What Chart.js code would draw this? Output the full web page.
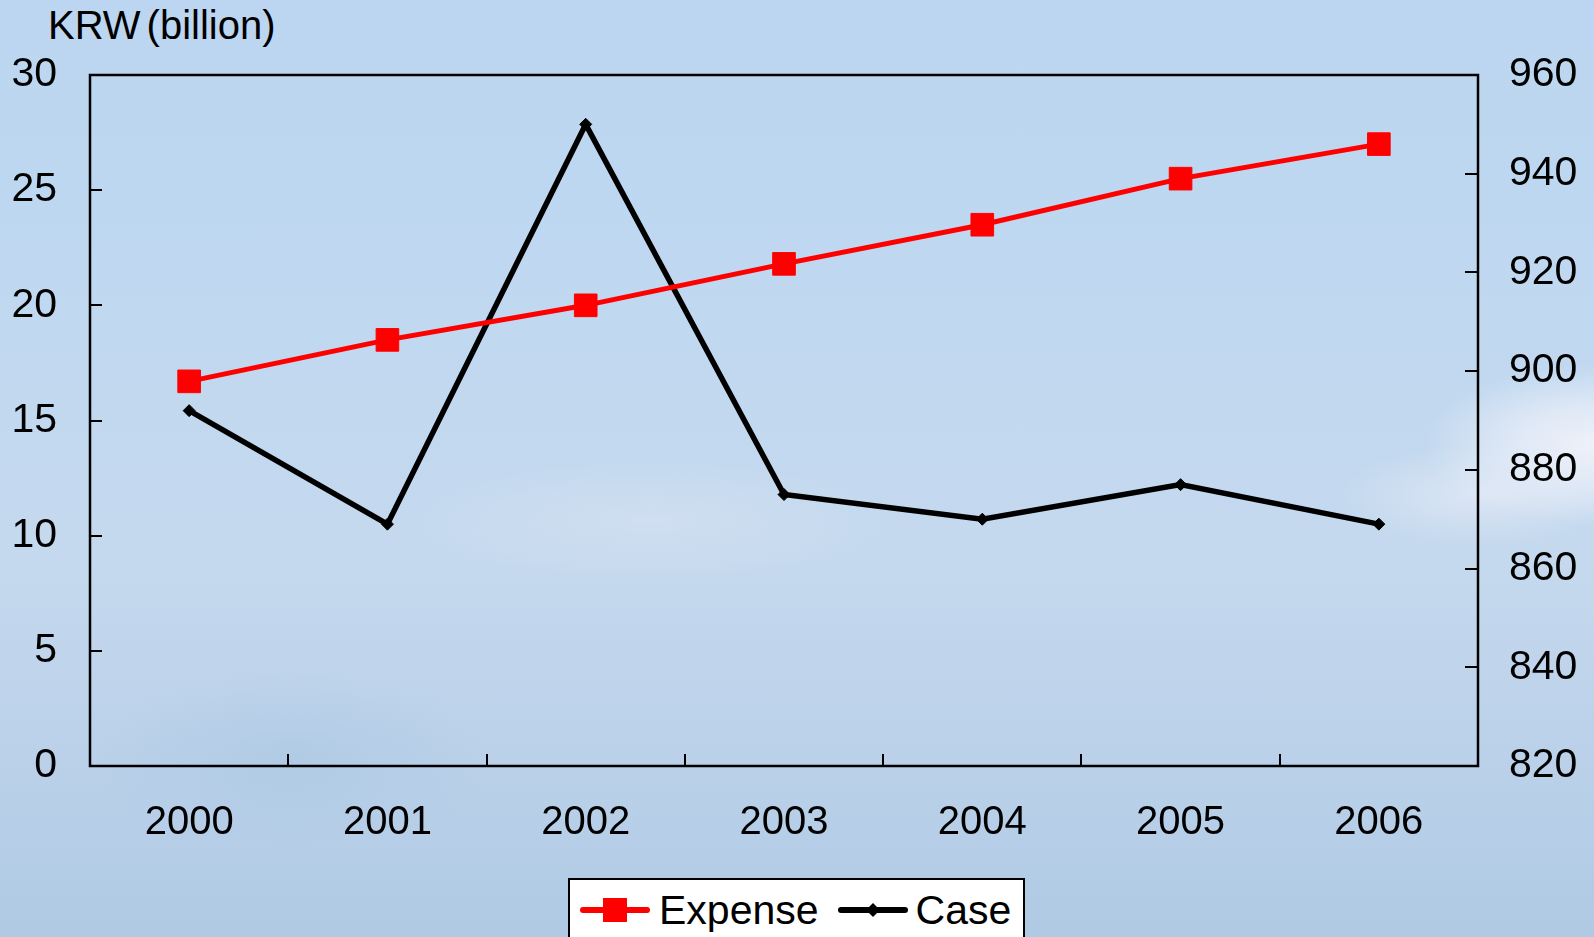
<!DOCTYPE html>
<html>
<head>
<meta charset="utf-8">
<title>Expense and Case</title>
<script src="https://cdn.jsdelivr.net/npm/chart.js@4.4.1/dist/chart.umd.min.js"></script>
<style>
  html, body { margin: 0; padding: 0; }
  body {
    width: 1594px; height: 937px; overflow: hidden; position: relative;
    font-family: "Liberation Sans", Arial, sans-serif;
    background:
      radial-gradient(ellipse 170px 80px at 1594px 445px, rgba(238,241,249,1), rgba(236,240,249,.7) 45%, rgba(232,237,247,0) 100%),
      radial-gradient(ellipse 140px 50px at 1480px 495px, rgba(228,234,246,.75), rgba(226,233,245,0) 100%),
      radial-gradient(ellipse 240px 60px at 650px 520px, rgba(222,230,243,.45), rgba(222,230,243,0) 100%),
      radial-gradient(ellipse 200px 90px at 290px 760px, rgba(170,198,226,.55), rgba(170,198,226,0) 100%),
      linear-gradient(180deg, #bcd6f1 0%, #c0d8f0 35%, #c5d9ee 60%, #bcd2ea 78%, #b0cae4 100%);
  }
  #chart { position: absolute; left: 0; top: 0; }
  #unit {
    position: absolute; left: 48px; top: 5px;
    font-size: 40px; line-height: 1; color: #000;
  }
  #unit span { margin-left: 6px; }
  #legend {
    position: absolute; left: 568px; top: 878px; width: 453px; height: 80px;
    background: #fff; border: 2px solid #000;
    display: flex; align-items: flex-start;
  }
  .item { display: flex; align-items: center; height: 60px; font-size: 41px; color: #000; }
  .item svg { display: block; }
</style>
</head>
<body>
<div id="unit">KRW<span>(billion)</span></div>
<canvas id="chart" width="1594" height="937"></canvas>
<div id="legend"></div>

<script>
/* Data */
const years = ['2000', '2001', '2002', '2003', '2004', '2005', '2006'];
const expense = [16.7, 18.5, 20.0, 21.8, 23.5, 25.5, 27.0];   // KRW billion
const cases = [892, 869, 950, 875, 870, 877, 869];            // count

const leftRange = { min: 0, max: 30, step: 5 };
const rightRange = { min: 820, max: 960, step: 20 };

const FONT = '"Liberation Sans", Arial, sans-serif';

/* Frame + inward tick marks */
const framePlugin = {
  id: 'frame',
  beforeDatasetsDraw(chart) {
    const { ctx, chartArea: a, scales } = chart;
    ctx.save();
    ctx.strokeStyle = '#000';
    ctx.lineWidth = 2;
    ctx.beginPath();
    // x ticks at category boundaries
    const x = scales.x;
    for (let i = 1; i < years.length; i++) {
      const px = Math.round((x.getPixelForTick(i - 1) + x.getPixelForTick(i)) / 2);
      ctx.moveTo(px, a.bottom); ctx.lineTo(px, a.bottom - 12);
    }
    // left axis
    scales.y.ticks.forEach(t => {
      const py = Math.round(scales.y.getPixelForValue(t.value));
      ctx.moveTo(a.left, py); ctx.lineTo(a.left + 12, py);
    });
    // right axis
    scales.y1.ticks.forEach(t => {
      const py = Math.round(scales.y1.getPixelForValue(t.value));
      ctx.moveTo(a.right, py); ctx.lineTo(a.right - 13, py);
    });
    ctx.stroke();
    ctx.lineWidth = 2.5;
    ctx.strokeRect(a.left, a.top, a.right - a.left, a.bottom - a.top);
    ctx.restore();
  }
};

const chart = new Chart(document.getElementById('chart'), {
  type: 'line',
  data: {
    labels: years,
    datasets: [
      {
        label: 'Expense', data: expense, yAxisID: 'y',
        borderColor: '#ff0000', backgroundColor: '#ff0000', borderWidth: 5,
        pointStyle: 'rect', pointRadius: 16, pointBorderWidth: 1, tension: 0
      },
      {
        label: 'Case', data: cases, yAxisID: 'y1',
        borderColor: '#000', backgroundColor: '#000', borderWidth: 5.5,
        pointStyle: 'rectRot', pointRadius: 6, pointBorderWidth: 1, tension: 0
      }
    ]
  },
  options: {
    responsive: false,
    animation: false,
    events: [],
    layout: { padding: { top: 75, left: 0, right: 0, bottom: 0 } },
    plugins: { legend: { display: false }, title: { display: false }, tooltip: { enabled: false } },
    scales: {
      x: {
        offset: true,
        grid: { display: false, drawTicks: false },
        border: { display: false },
        ticks: { color: '#000', font: { family: FONT, size: 40 }, padding: 33, maxRotation: 0 },
        afterFit: s => { s.height = 171; }
      },
      y: {
        position: 'left', min: leftRange.min, max: leftRange.max,
        grid: { display: false, drawTicks: false },
        border: { display: false },
        ticks: { stepSize: leftRange.step, color: '#000', font: { family: FONT, size: 41 }, padding: 33 },
        afterFit: s => { s.width = 90; }
      },
      y1: {
        position: 'right', min: rightRange.min, max: rightRange.max,
        grid: { display: false, drawTicks: false },
        border: { display: false },
        ticks: { stepSize: rightRange.step, color: '#000', font: { family: FONT, size: 41 }, padding: 31 },
        afterFit: s => { s.width = 116; }
      }
    }
  },
  plugins: [framePlugin]
});

/* Legend built from the datasets */
function swatch(ds) {
  const w = 70, h = 30, cy = h / 2;
  let mark;
  if (ds.pointStyle === 'rect') {
    mark = `<rect x="${w / 2 - 12}" y="${cy - 12}" width="24" height="24" fill="${ds.backgroundColor}"/>`;
  } else {
    mark = `<polygon points="${w / 2 - 7},${cy} ${w / 2},${cy - 7} ${w / 2 + 7},${cy} ${w / 2},${cy + 7}" fill="${ds.backgroundColor}"/>`;
  }
  return `<svg width="${w}" height="${h}"><line x1="3" y1="${cy}" x2="${w - 3}" y2="${cy}" stroke="${ds.borderColor}" stroke-width="6" stroke-linecap="round"/>${mark}</svg>`;
}

const legendEl = document.getElementById('legend');
legendEl.innerHTML = chart.data.datasets.map((ds, i) =>
  `<div class="item" style="margin-left:${i === 0 ? 10 : 19}px">${swatch(ds)}<span style="margin-left:${i === 0 ? 9 : 8}px">${ds.label}</span></div>`
).join('');
</script>
</body>
</html>
